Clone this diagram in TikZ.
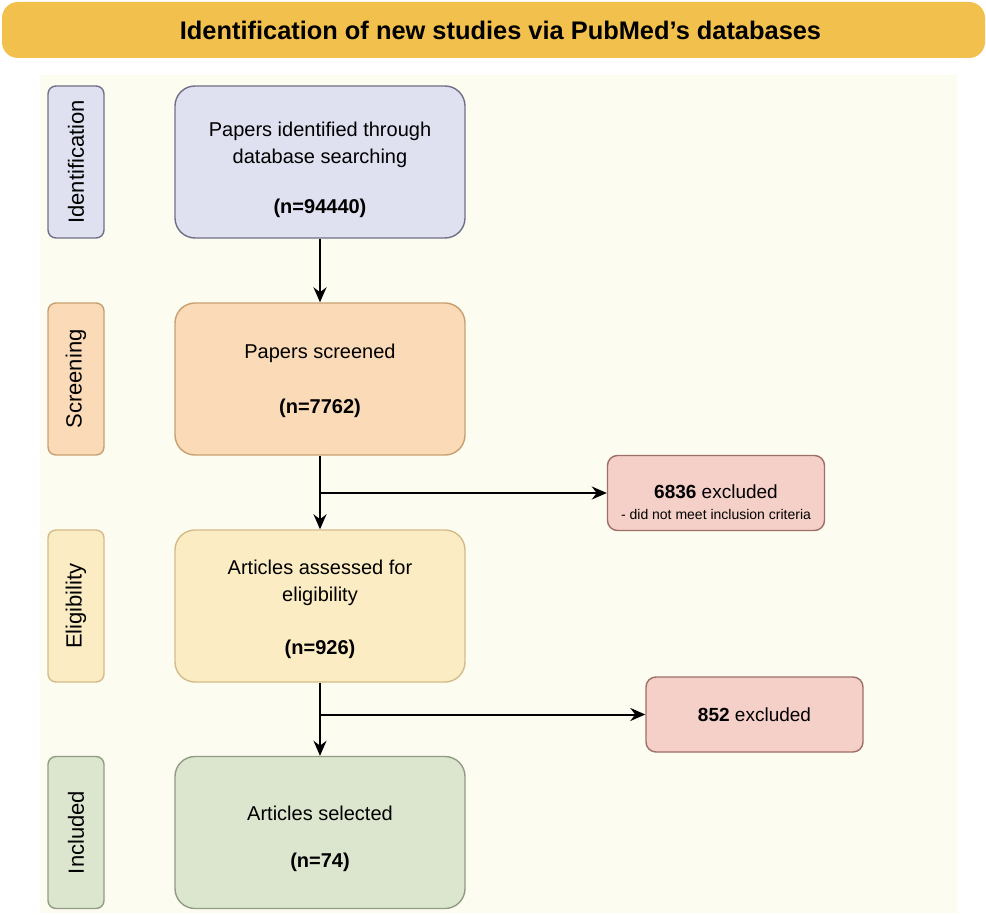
\documentclass[tikz,border=0pt]{standalone}
\usepackage{fontspec}
\setmainfont{Liberation Sans}
\usetikzlibrary{arrows.meta}

\definecolor{bannerfill}{HTML}{F2C04C}
\definecolor{cream}{HTML}{FDFCF0}
\definecolor{idfill}{HTML}{DFE0F0}
\definecolor{iddraw}{HTML}{707088}
\definecolor{scrfill}{HTML}{FBDAB8}
\definecolor{scrdraw}{HTML}{C8A070}
\definecolor{elifill}{HTML}{FCECC4}
\definecolor{elidraw}{HTML}{D4BC88}
\definecolor{incfill}{HTML}{DCE5CE}
\definecolor{incdraw}{HTML}{909C84}
\definecolor{exfill}{HTML}{F5D0C8}
\definecolor{exdraw}{HTML}{9E6E68}

\tikzset{
  banner/.style={rectangle, rounded corners=8pt, fill=bannerfill,
    minimum width=491.5pt, minimum height=28pt,
    font=\fontsize{12.7}{15}\selectfont\bfseries},
  stage/.style={rectangle, rounded corners=10pt, line width=0.7pt,
    minimum width=145pt, minimum height=76pt, align=center,
    font=\fontsize{10}{13.5}\selectfont},
  phase/.style={rectangle, rounded corners=4pt, line width=0.7pt, rotate=90,
    minimum width=76pt, minimum height=28pt,
    font=\fontsize{11}{13}\selectfont},
  exclbox/.style={rectangle, rounded corners=5pt, draw=exdraw, fill=exfill,
    line width=0.7pt, minimum width=108.5pt, minimum height=37.5pt,
    align=center, font=\fontsize{9.5}{11.5}\selectfont},
  flow/.style={-{Stealth[length=7.5pt, width=6.5pt]}, line width=1pt}
}

\begin{document}
\begin{tikzpicture}[x=0.5pt, y=-0.5pt]
\useasboundingbox[fill=white] (0,0) rectangle (986,915);
\fill[cream] (40,75) rectangle (957,913);

% title bar
\node[banner] (title) at (493.5,30) {\hspace*{7pt}Identification of new studies via PubMed’s databases};

% phase labels on the left
\node[phase, draw=iddraw, fill=idfill] (idlab) at (76,162) {Identification};
\node[phase, draw=scrdraw, fill=scrfill] (scrlab) at (76,379) {Screening};
\node[phase, draw=elidraw, fill=elifill] (elilab) at (76,606) {Eligibility};
\node[phase, draw=incdraw, fill=incfill] (inclab) at (76,832.5) {Included};

% main flow (the struts push the text a little down)
\node[stage, draw=iddraw, fill=idfill] (ident) at (320,162)
  {\rule{0pt}{15pt}Papers identified through\\database searching\\[11.5pt]\textbf{(n=94440)}};
\node[stage, draw=scrdraw, fill=scrfill] (screen) at (320,379)
  {\rule{0pt}{9pt}Papers screened\\[14pt]\textbf{(n=7762)}};
\node[stage, draw=elidraw, fill=elifill] (elig) at (320,606)
  {\rule{0pt}{11pt}Articles assessed for\\eligibility\\[13pt]\textbf{(n=926)}};
\node[stage, draw=incdraw, fill=incfill] (incl) at (320,832.5)
  {\rule{0pt}{14pt}Articles selected\\[10pt]\textbf{(n=74)}};

% exclusions
\node[exclbox] (excl1) at (716,493)
  {\rule{0pt}{16pt}\textbf{6836} excluded\\[-1pt]{\fontsize{7}{8}\selectfont - did not meet inclusion criteria}};
\node[exclbox] (excl2) at (754.5,714.5) {\textbf{852} excluded};

\draw[flow] (ident) -- (screen);
\draw[flow] (screen) -- (elig);
\draw[flow] (elig) -- (incl);
\draw[flow] (screen.south |- excl1.west) -- (excl1.west);
\draw[flow] (elig.south |- excl2.west) -- (excl2.west);
\end{tikzpicture}
\end{document}
